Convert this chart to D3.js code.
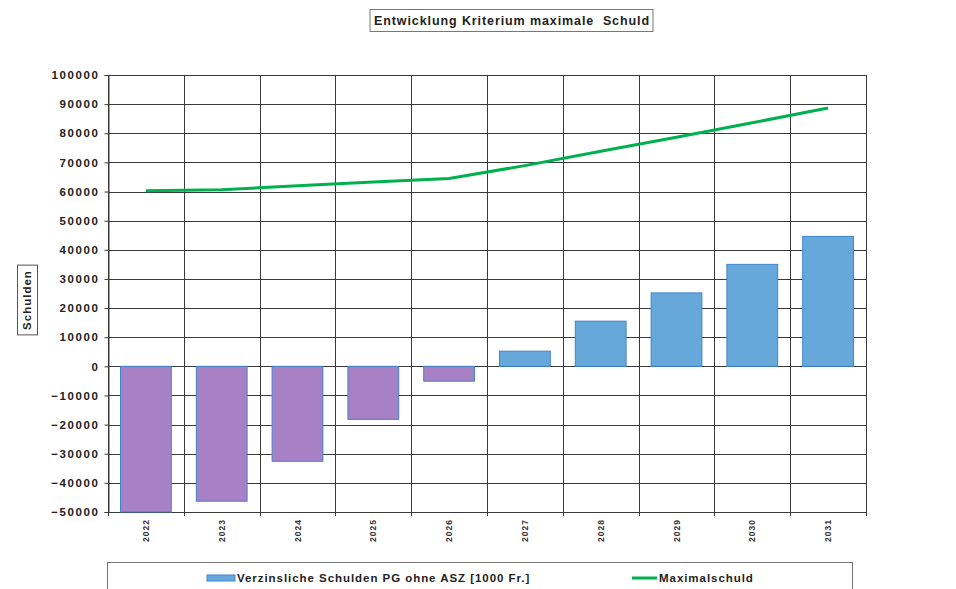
<!DOCTYPE html>
<html>
<head>
<meta charset="utf-8">
<script src="https://cdn.jsdelivr.net/npm/d3@7"></script>
<style>
  body { margin: 0; background: #fff; }
  svg { display: block; font-family: "Liberation Sans", Arial, sans-serif; }
  .grid line { stroke: #3a3a3a; stroke-width: 1; }
  .tick text { font-weight: bold; fill: #222; }
</style>
</head>
<body>
<div id="chart"></div>
<script>
// data
var years = ["2022", "2023", "2024", "2025", "2026", "2027", "2028", "2029", "2030", "2031"];
var schulden = [-50000, -46300, -32600, -18200, -5100, 5200, 15500, 25200, 35000, 44600];
var maximalschuld = [60300, 60600, 62000, 63300, 64500, 68900, 73800, 78600, 83600, 88700];
var yTicks = [100000, 90000, 80000, 70000, 60000, 50000, 40000, 30000, 20000, 10000, 0,
  -10000, -20000, -30000, -40000, -50000];

var titleText = "Entwicklung Kriterium maximale  Schuld";
var yTitle = "Schulden";
var legendBars = "Verzinsliche Schulden PG ohne ASZ [1000 Fr.]";
var legendLine = "Maximalschuld";

var W = 956, H = 589;
var plot = {left: 108, right: 866, top: 75, bottom: 512};

var svg = d3.select("#chart").append("svg")
  .attr("width", W)
  .attr("height", H);

// scales
var x = d3.scaleBand().domain(years).range([plot.left, plot.right]).padding(0);
var y = d3.scaleLinear().domain([-50000, 100000]).range([plot.bottom, plot.top]);
var barW = x.bandwidth() * 0.67;

// title box
var title = svg.append("text")
  .attr("x", 512).attr("y", 25)
  .attr("text-anchor", "middle")
  .style("font-size", "12.5px").style("font-weight", "bold").style("fill", "#222")
  .style("letter-spacing", "0.9px")
  .style("white-space", "pre")
  .attr("xml:space", "preserve")
  .text(titleText);
var tb = title.node().getBBox();
svg.insert("rect", "text")
  .attr("x", tb.x - 4).attr("y", 9.5)
  .attr("width", tb.width + 7).attr("height", 22)
  .attr("fill", "#fff").attr("stroke", "#777").attr("stroke-width", 1);

// horizontal grid
svg.append("g").attr("class", "grid")
  .selectAll("line").data(yTicks).enter().append("line")
  .attr("x1", plot.left).attr("x2", plot.right)
  .attr("y1", function(d) { return Math.round(y(d)) + 0.5; })
  .attr("y2", function(d) { return Math.round(y(d)) + 0.5; });

// vertical grid at category boundaries
var bounds = years.map(function(d) { return x(d); }).concat([plot.right]);
svg.append("g").attr("class", "grid")
  .selectAll("line").data(bounds).enter().append("line")
  .attr("x1", function(d) { return Math.round(d) + 0.5; })
  .attr("x2", function(d) { return Math.round(d) + 0.5; })
  .attr("y1", plot.top).attr("y2", plot.bottom + 4);

// bars
svg.append("g").selectAll("rect")
  .data(schulden).enter().append("rect")
  .attr("x", function(d, i) { return x(years[i]) + (x.bandwidth() - barW) / 2; })
  .attr("width", barW)
  .attr("y", function(d) { return y(Math.max(0, d)); })
  .attr("height", function(d) { return Math.abs(y(d) - y(0)); })
  .attr("fill", function(d) { return d < 0 ? "#a880c4" : "#66a8da"; })
  .attr("stroke", "#3f84cc")
  .attr("stroke-width", 1);

// y axis
var yAxis = d3.axisLeft(y).tickValues(yTicks).tickSize(4).tickPadding(5).tickFormat(d3.format("d"));
var yg = svg.append("g")
  .attr("transform", "translate(" + (plot.left + 0.5) + ",0)")
  .call(yAxis);
yg.selectAll("text").style("font-size", "11.5px").style("letter-spacing", "1.6px");
yg.selectAll("line, path").attr("stroke", "#3a3a3a");

// x axis labels, rotated
svg.append("g").selectAll("text")
  .data(years).enter().append("text")
  .attr("transform", function(d) {
    return "translate(" + (x(d) + x.bandwidth() / 2 + 3) + "," + (plot.bottom + 7) + ")rotate(-90)";
  })
  .attr("text-anchor", "end")
  .style("font-size", "8.5px").style("font-weight", "bold").style("fill", "#333")
  .style("letter-spacing", "1px")
  .text(function(d) { return d; });

// line
var line = d3.line()
  .x(function(d, i) { return x(years[i]) + x.bandwidth() / 2; })
  .y(function(d) { return y(d); });
svg.append("path")
  .datum(maximalschuld)
  .attr("d", line)
  .attr("fill", "none")
  .attr("stroke", "#00b04f")
  .attr("stroke-width", 3);

// y title box
var yt = svg.append("text")
  .attr("transform", "translate(31,300)rotate(-90)")
  .attr("text-anchor", "middle")
  .style("font-size", "11.5px").style("font-weight", "bold").style("fill", "#222")
  .style("letter-spacing", "1px")
  .text(yTitle);
var ytw = yt.node().getComputedTextLength();
svg.insert("rect", "text")
  .attr("x", 17.5).attr("y", 300 - ytw / 2 - 5)
  .attr("width", 20).attr("height", ytw + 10)
  .attr("fill", "#fff").attr("stroke", "#555");

// legend
var legend = svg.append("g");
legend.append("rect")
  .attr("x", 107.5).attr("y", 562.5)
  .attr("width", 745).attr("height", 40)
  .attr("fill", "#fff").attr("stroke", "#777");
legend.append("rect")
  .attr("x", 207).attr("y", 575).attr("width", 28).attr("height", 6)
  .attr("fill", "#66a8da").attr("stroke", "#3f84cc");
legend.append("text")
  .attr("x", 237).attr("y", 582)
  .style("font-size", "11.5px").style("font-weight", "bold").style("fill", "#222")
  .style("letter-spacing", "0.95px")
  .text(legendBars);
legend.append("line")
  .attr("x1", 632).attr("x2", 657).attr("y1", 578).attr("y2", 578)
  .attr("stroke", "#00b04f").attr("stroke-width", 3);
legend.append("text")
  .attr("x", 659).attr("y", 582)
  .style("font-size", "11.5px").style("font-weight", "bold").style("fill", "#222")
  .style("letter-spacing", "0.95px")
  .text(legendLine);
</script>
</body>
</html>
